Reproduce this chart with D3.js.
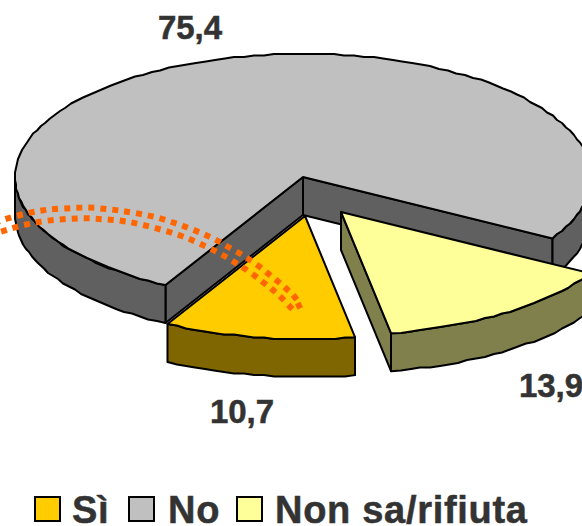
<!DOCTYPE html>
<html><head><meta charset="utf-8">
<script src="https://cdn.jsdelivr.net/npm/d3@7"></script>
<style>html,body{margin:0;padding:0;background:#fff}svg{display:block}text{font-family:"Liberation Sans",Arial,sans-serif;font-weight:bold;fill:#333;stroke:#333;stroke-width:.5px}</style>
</head><body><svg id="c" width="582" height="526"></svg>
<script>
const categories = ["Sì", "No", "Non sa/rifiuta"];
const values = [10.7, 75.4, 13.9];
const valueLabels = ["10,7", "75,4", "13,9"];
const topColors = ["#FFCC00", "#C0C0C0", "#FFFF99"];
const sideColors = ["#806600", "#606060", "#80804D"];
const explodeX = [2, 0, 38];
const explodeY = [39, 0, 35];
const labelX = [242, 190, 551];
const labelY = [423, 39, 397];
const dotsUpperX = [-3, 8.3, 20, 31.7, 43.3, 55, 67.3, 79.3, 91.3, 103.3, 115.3, 127, 139, 150.7, 162.3, 173.7, 185, 196.3, 207.3, 218, 228.3, 239, 249, 259, 268.3, 277.7, 286.7, 295, 299];
const dotsUpperY = [222, 218.3, 215, 212.3, 210.3, 209, 208.3, 207.7, 207.7, 208.7, 210, 211.7, 213.7, 216, 219, 222.7, 226.7, 231, 235.7, 241, 247, 253, 259.3, 266.3, 273.7, 281.3, 289, 297.3, 305.7];
const dotsLowerX = [4, 15.3, 27, 38.7, 50.7, 62.7, 74.7, 86.7, 98.7, 110.7, 122.7, 134.3, 146, 157.7, 169.3, 180.7, 191.7, 202.7, 213.7, 224.3, 234.7, 244.7, 254.7, 264, 273.3, 282, 290.3];
const dotsLowerY = [230.7, 227.3, 224.3, 222, 220.3, 219.3, 218.7, 218.3, 219, 219.7, 221, 223, 225.7, 228.7, 232, 235.7, 240, 245, 250.3, 256, 262.3, 268.7, 275.7, 283, 290.3, 298.3, 307];

const svg = d3.select("#c");
const cx = 303, cy = 177, rx = 288, ry = 123, depth = 38;
const TAU = 2 * Math.PI;
const start = 170 * Math.PI / 180;
const sx = d3.scaleLinear().domain([-1, 1]).range([-rx, rx]);
const sy = d3.scaleLinear().domain([-1, 1]).range([ry, -ry]);
const pie = d3.pie().sort(null).value(d => d).startAngle(start).endAngle(start + TAU);
const slices = pie(values);

function arcPts(a, b, ox, oy) {
  const n = Math.max(2, Math.round(Math.abs(b - a) * rx / 10));
  return d3.range(n + 1).map(i => {
    const t = a + (b - a) * i / n;
    const x = cx + ox + sx(Math.sin(t)), y = cy + oy + sy(Math.cos(t));
    return (i === 0 || i === n) ? [x, y] : [Math.round(x), Math.round(y / 1.5) * 1.5];
  });
}
const line = d3.line();
const poly = p => line(p) + "Z";

slices.forEach(sl => {
  const i = sl.index, ox = explodeX[i], oy = explodeY[i];
  const s = sl.startAngle, e = sl.endAngle;
  const g = svg.append("g").attr("stroke", "#000").attr("stroke-width", 2).attr("stroke-linejoin", "round");
  const c = [cx + ox, cy + oy];
  const pt = t => [cx + ox + sx(Math.sin(t)), cy + oy + sy(Math.cos(t))];
  const face = t => {
    const p = pt(t);
    g.append("path").attr("fill", sideColors[i])
      .attr("d", poly([c, p, [p[0], p[1] + depth], [c[0], c[1] + depth]]));
  };
  if (Math.sin(s) < 0) face(s);
  if (Math.sin(e) > 0) face(e);
  for (let k = -1; k <= 1; k++) {
    const lo = Math.max(s, Math.PI / 2 + TAU * k), hi = Math.min(e, 3 * Math.PI / 2 + TAU * k);
    if (lo < hi) {
      const up = arcPts(lo, hi, ox, oy), dn = arcPts(hi, lo, ox, oy + depth);
      g.append("path").attr("fill", sideColors[i]).attr("d", poly(up.concat(dn)));
    }
  }
  g.append("path").attr("fill", topColors[i]).attr("d", poly([c].concat(arcPts(s, e, ox, oy))));
});

[[dotsUpperX, dotsUpperY], [dotsLowerX, dotsLowerY]].forEach(([xs, ys]) => {
  svg.append("g").selectAll("rect").data(xs).join("rect")
    .attr("x", -3).attr("y", -3).attr("width", 6).attr("height", 6).attr("fill", "#FF6600")
    .attr("transform", (x, j) => {
      const a = Math.max(0, j - 1), b = Math.min(xs.length - 1, j + 1);
      const deg = Math.atan2(ys[b] - ys[a], xs[b] - xs[a]) * 180 / Math.PI;
      return `translate(${x},${ys[j]}) rotate(${deg})`;
    });
});

svg.selectAll("text.v").data(valueLabels).join("text").attr("class", "v")
  .attr("x", (d, i) => labelX[i]).attr("y", (d, i) => labelY[i])
  .attr("text-anchor", "middle").attr("font-size", 33).text(d => d);

const boxX = [35, 129, 237], textX = [72, 168, 275];
const lg = svg.selectAll("g.l").data(categories).join("g").attr("class", "l");
lg.append("rect").attr("x", (d, i) => boxX[i]).attr("y", 497).attr("width", 25).attr("height", 24)
  .attr("fill", (d, i) => topColors[i]).attr("stroke", "#000").attr("stroke-width", 2);
lg.append("text").attr("x", (d, i) => textX[i]).attr("y", 523).attr("font-size", 38)
  .attr("letter-spacing", 0.7).text(d => d);
</script></body></html>
